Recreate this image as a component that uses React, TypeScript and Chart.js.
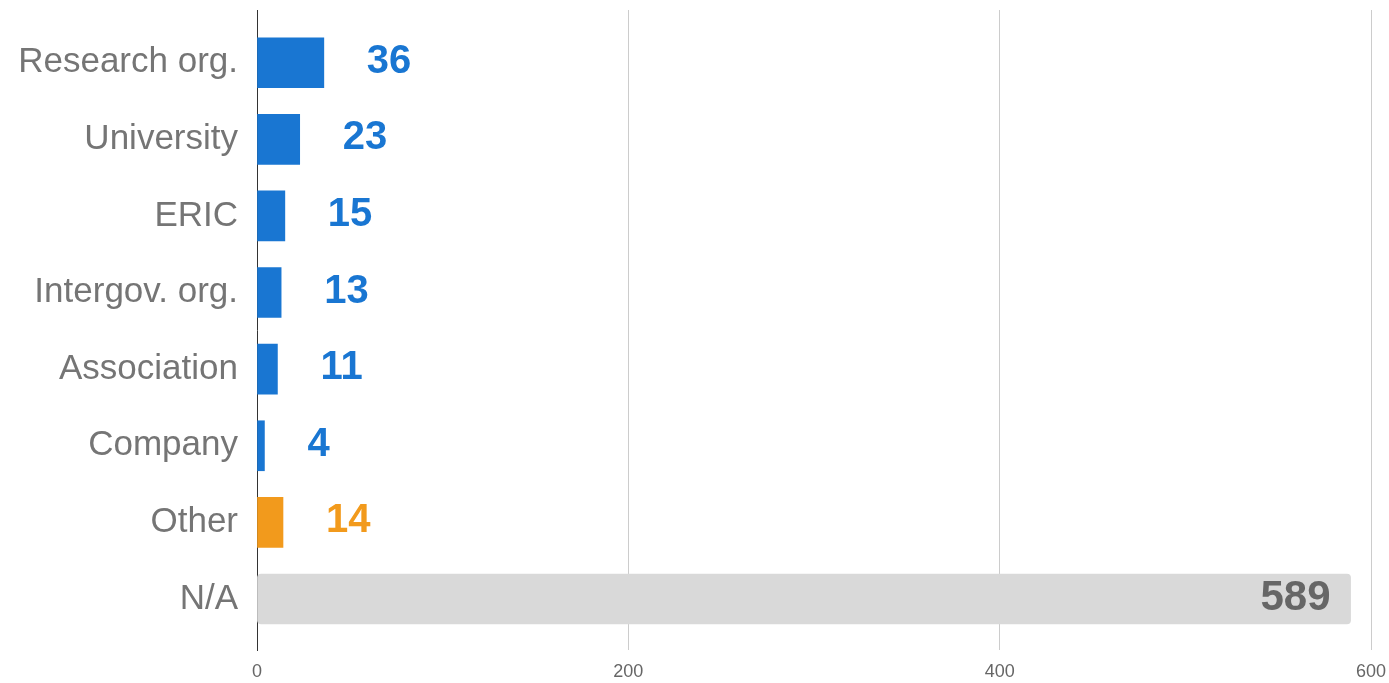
import React, { useEffect, useRef } from "react";
import { Chart, registerables } from "chart.js";

Chart.register(...registerables);

const categories = [
  "Research org.",
  "University",
  "ERIC",
  "Intergov. org.",
  "Association",
  "Company",
  "Other",
  "N/A",
];
const counts = [36, 23, 15, 13, 11, 4, 14, 589];
const barColors = [
  "#1976D2",
  "#1976D2",
  "#1976D2",
  "#1976D2",
  "#1976D2",
  "#1976D2",
  "#F29A1C",
  "#D9D9D9",
];
const valueColors = [
  "#1976D2",
  "#1976D2",
  "#1976D2",
  "#1976D2",
  "#1976D2",
  "#1976D2",
  "#F29A1C",
  "#666666",
];
const xTicks = [0, 200, 400, 600];

const FONT = "'Liberation Sans', Arial, Helvetica, sans-serif";

const valueLabelPlugin = {
  id: "valueLabels",
  afterDatasetsDraw(chart: any) {
    const ctx = chart.ctx;
    const meta = chart.getDatasetMeta(0);
    ctx.save();
    meta.data.forEach((bar: any, i: number) => {
      const v = counts[i];
      const inside = i === categories.length - 1;
      ctx.fillStyle = valueColors[i];
      ctx.textBaseline = "middle";
      if (inside) {
        ctx.font = `bold 42px ${FONT}`;
        ctx.textAlign = "right";
        ctx.fillText(String(v), bar.x - 20, bar.y - 1);
      } else {
        ctx.font = `bold 40px ${FONT}`;
        ctx.textAlign = "left";
        ctx.fillText(String(v), bar.x + 43, bar.y - 1);
      }
    });
    ctx.restore();
  },
};

export default function App() {
  const ref = useRef<HTMLCanvasElement | null>(null);

  useEffect(() => {
    if (!ref.current) return;
    const chart = new Chart(ref.current, {
      type: "bar",
      data: {
        labels: categories,
        datasets: [
          {
            data: counts.map((v, i) => ({ x: v, y: i })),
            backgroundColor: barColors,
            borderWidth: 0,
            barThickness: 50,
            borderRadius: (c: any) => (c.dataIndex === categories.length - 1 ? 4 : 0),
            borderSkipped: false,
          } as any,
        ],
      },
      options: {
        indexAxis: "y",
        animation: false,
        responsive: false,
        maintainAspectRatio: false,
        layout: { padding: { top: 10, right: 18, bottom: 0, left: 0 } },
        plugins: {
          legend: { display: false },
          tooltip: { enabled: false },
        },
        scales: {
          x: {
            type: "linear",
            min: 0,
            max: 600,
            offset: false,
            afterBuildTicks: (scale: any) => {
              scale.ticks = xTicks.map((v) => ({ value: v }));
            },
            afterFit: (scale: any) => {
              scale.height = 33;
              scale.paddingLeft = 0;
              scale.paddingRight = 0;
            },
            grid: {
              offset: false,
              color: (c: any) => (c.tick && c.tick.value === 0 ? "rgba(0,0,0,0)" : "#CCCCCC"),
              lineWidth: 1,
              drawTicks: false,
            },
            border: { display: false },
            ticks: {
              color: "#666666",
              font: { family: FONT, size: 18 },
              padding: 11,
            },
          },
          y: {
            type: "linear",
            reverse: true,
            offset: false,
            min: -0.688,
            max: 7.666,
            afterBuildTicks: (scale: any) => {
              scale.ticks = categories.map((_, i) => ({ value: i }));
            },
            afterFit: (scale: any) => {
              scale.width = 257;
              scale.paddingTop = 0;
              scale.paddingBottom = 0;
            },
            grid: { display: false, drawTicks: false, offset: false },
            border: { display: true, color: "#333333", width: 1 },
            ticks: {
              color: "#757575",
              font: { family: FONT, size: 35 },
              padding: 19,
              autoSkip: false,
              callback: (v: any) => categories[v as number] ?? "",
            },
          },
        },
      } as any,
      plugins: [valueLabelPlugin],
    });
    return () => chart.destroy();
  }, []);

  return (
    <div style={{ position: "fixed", left: 0, top: 0, width: 1389, height: 683, background: "#fff" }}>
      <canvas ref={ref} width={1389} height={683} style={{ width: 1389, height: 683 }} />
    </div>
  );
}
